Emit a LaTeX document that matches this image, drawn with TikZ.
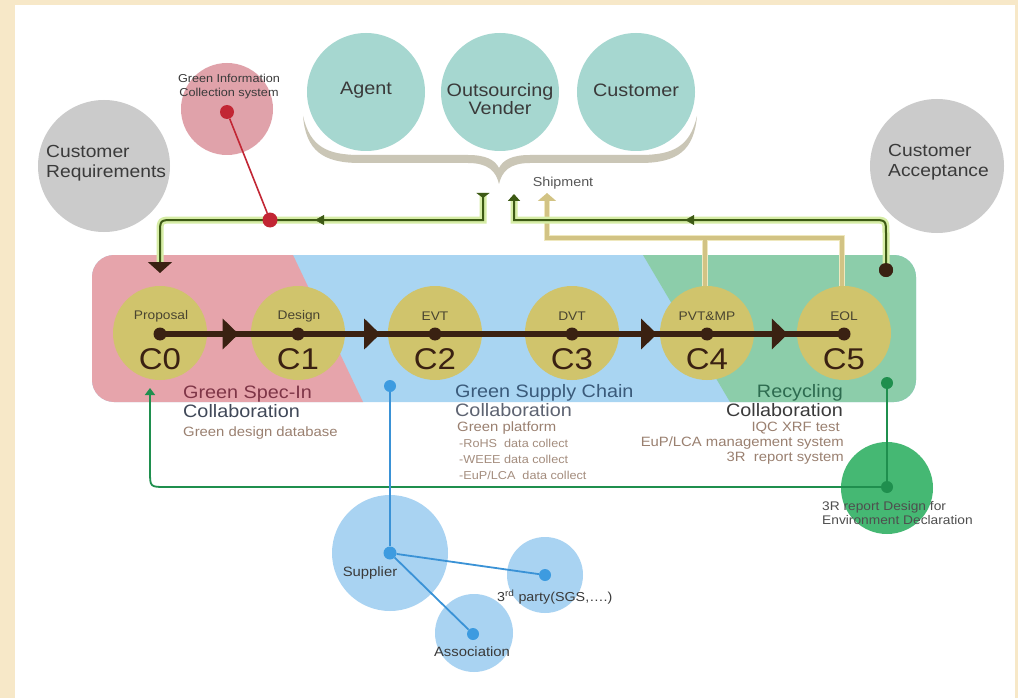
\documentclass[tikz,border=0pt]{standalone}
\usepackage{fontspec}
\setmainfont[FakeStretch=1.1]{Liberation Sans}
\usetikzlibrary{arrows.meta,decorations.markings}

\definecolor{bgbeige}{HTML}{F7E8C8}
\definecolor{bracegray}{HTML}{CAC6B6}
\definecolor{tealfill}{HTML}{A6D7D0}
\definecolor{grayfill}{HTML}{CBCBCB}
\definecolor{pinkfill}{HTML}{E0A2AA}
\definecolor{reddot}{HTML}{C22634}
\definecolor{bandpink}{HTML}{E6A4AB}
\definecolor{bandblue}{HTML}{A9D5F2}
\definecolor{bandgreen}{HTML}{8CCDAA}
\definecolor{olive}{HTML}{D0C46C}
\definecolor{brownline}{HTML}{3A2112}
\definecolor{dkgreen}{HTML}{3D5A14}
\definecolor{glowgreen}{HTML}{D6EDA6}
\definecolor{khakiline}{HTML}{D2C384}
\definecolor{khakiglow}{HTML}{EFE8BE}
\definecolor{envgreen}{HTML}{1F8F4E}
\definecolor{envfill}{HTML}{45B873}
\definecolor{bluefill}{HTML}{A9D3F2}
\definecolor{blueline}{HTML}{3A92D6}
\definecolor{bluedot}{HTML}{3D9BE0}
\definecolor{textgray}{HTML}{3A3A3A}
\definecolor{labelolive}{HTML}{4A4530}
\definecolor{maroon}{HTML}{7E3547}
\definecolor{slate}{HTML}{404858}
\definecolor{steel}{HTML}{3A5A7A}
\definecolor{tan}{HTML}{9A8070}
\definecolor{forest}{HTML}{2D6B4F}

\newcommand{\fsz}[2]{\fontsize{#1}{#2}\selectfont}

\begin{document}
\begin{tikzpicture}[x=1pt,y=-1pt,
  bubble/.style={circle, inner sep=0pt, minimum size=#1},
  dotnode/.style={circle, inner sep=0pt, minimum size=#1},
  txt/.style={inner sep=0pt, text=textgray},
  mainline/.style={draw=brownline, line width=6pt},
  bigtip/.style={postaction={decorate}, decoration={markings,
      mark=at position #1 with {\arrow[brownline]{Triangle[length=16pt,width=30pt]}}}},
  smalltip/.style={postaction={decorate}, decoration={markings,
      mark=at position #1 with {\arrow[dkgreen]{Triangle[length=9pt,width=10pt]}}}},
  glow/.style={draw=glowgreen, line width=7pt},
  ship/.style={draw=dkgreen, line width=2pt},
  khglow/.style={draw=khakiglow, line width=6.5pt},
  kh/.style={draw=khakiline, line width=3.5pt},
  envline/.style={draw=envgreen, line width=1.8pt},
  bluelink/.style={draw=blueline, line width=1.8pt}
]
\useasboundingbox (0,0) rectangle (1018,698);
\fill[bgbeige] (0,0) rectangle (1018,698);
\fill[white] (15,5) rectangle (1015,698);

% brace gathering the three partners
\fill[bracegray] (303,116) .. controls (306,150) and (322,163) .. (360,163) -- (468,163)
  .. controls (488,163) and (496,171) .. (499,184)
  .. controls (502,171) and (510,163) .. (530,163) -- (640,163)
  .. controls (678,163) and (694,150) .. (697,116)
  .. controls (690,146) and (674,155) .. (640,155) -- (530,155)
  .. controls (512,155) and (503,160) .. (499,168)
  .. controls (495,160) and (486,155) .. (468,155) -- (360,155)
  .. controls (326,155) and (310,146) .. (303,116) -- cycle;

% partners
\node[bubble=118pt, fill=tealfill] (agent) at (366,92) {};
\node[bubble=118pt, fill=tealfill] (vendor) at (500,92) {};
\node[bubble=118pt, fill=tealfill] (customer) at (636,92) {};
\node[txt, font=\fsz{18}{20}] (agenttxt) at (366,90) {Agent};
\node[txt, align=center, font=\fsz{18}{18}] (vendortxt) at (500,99) {Outsourcing\\Vender};
\node[txt, font=\fsz{18}{20}] (customertxt) at (636,90) {Customer};
\node[txt, text=textgray!85, font=\fsz{13}{15}] (ship) at (563,183) {Shipment};

% customer circles
\node[bubble=132pt, fill=grayfill] (custreq) at (104,166) {};
\node[txt, anchor=west, align=left, font=\fsz{17.5}{20}] (custreqtxt) at (46,163) {Customer\\Requirements};
\node[bubble=134pt, fill=grayfill] (custacc) at (937,166) {};
\node[txt, anchor=west, align=left, font=\fsz{17.5}{20}] (custacctxt) at (888,162) {Customer\\Acceptance};

% green information collection system
\node[bubble=92pt, fill=pinkfill] (gic) at (227,109) {};
\node[txt, align=center, font=\fsz{11.5}{14}] (gictxt) at (229,87) {Green Information\\Collection system};

% life-cycle band
\begin{scope}
  \path[clip, rounded corners=22pt] (92,255) rectangle (916,402);
  \fill[bandblue] (80,245) rectangle (930,410);
  \fill[bandpink] (80,245) -- (293,245) -- (293,255) -- (363,402) -- (363,410) -- (80,410) -- cycle;
  \fill[bandgreen] (643,255) -- (930,255) -- (930,410) -- (730,410) -- (730,402) -- cycle;
\end{scope}

% feedback coordinates
\coordinate (a0) at (483,193);
\coordinate (a1) at (483,220);
\coordinate (a2) at (160,220);
\coordinate (a3) at (160,273);
\coordinate (a3g) at (160,262);
\coordinate (b1) at (886,220);
\coordinate (b2) at (514,220);
\coordinate (b3) at (514,194);
\coordinate (k0) at (842,292);
\coordinate (k1) at (842,238);
\coordinate (k2) at (547,238);
\coordinate (k3) at (547,193);
\coordinate (k4) at (705,292);
\coordinate (k5) at (705,238);

% khaki shipment feed from C4 and C5
\draw[khglow] (k0) -- (k1) -- (k2) -- ([yshift=-6pt]k3);
\draw[khglow] (k4) -- (k5);
\draw[kh, -{Triangle[length=8pt,width=18pt]}] (k0) -- (k1) -- (k2) -- (k3);
\draw[kh] (k4) -- (k5);

% stage circles
\foreach \n/\x in {0/160,1/298,2/435,3/572,4/707,5/844}{
  \node[bubble=94pt, fill=olive] (c\n) at (\x,333) {};
}
\node[txt, text=labelolive, font=\fsz{12.5}{14}] (l0) at (161,316) {Proposal};
\node[txt, text=labelolive, font=\fsz{12.5}{14}] (l1) at (299,316) {Design};
\node[txt, text=labelolive, font=\fsz{12.5}{14}] (l2) at (435,316) {EVT};
\node[txt, text=labelolive, font=\fsz{12.5}{14}] (l3) at (572,316) {DVT};
\node[txt, text=labelolive, font=\fsz{12.5}{14}] (l4) at (707,316) {PVT\&MP};
\node[txt, text=labelolive, font=\fsz{12.5}{14}] (l5) at (844,316) {EOL};
\node[txt, text=brownline, font=\fsz{30}{32}] (n0) at (160,359) {C0};
\node[txt, text=brownline, font=\fsz{30}{32}] (n1) at (298,359) {C1};
\node[txt, text=brownline, font=\fsz{30}{32}] (n2) at (435,359) {C2};
\node[txt, text=brownline, font=\fsz{30}{32}] (n3) at (572,359) {C3};
\node[txt, text=brownline, font=\fsz{30}{32}] (n4) at (707,359) {C4};
\node[txt, text=brownline, font=\fsz{30}{32}] (n5) at (844,359) {C5};

% green feedback lines to and from shipment
\node[dotnode=14pt, fill=brownline] (tdot) at (886,270) {};
\draw[glow] (a0) -- (a1) -- ([xshift=14pt]a2) .. controls (a2) .. ([yshift=-14pt]a2) -- (a3g);
\draw[glow] (tdot.center) -- ([yshift=-14pt]b1) .. controls (b1) .. ([xshift=-14pt]b1) -- (b2) -- ([yshift=-5pt]b3);
\draw[ship, {Triangle[reversed,length=5pt,width=13pt]}-{Triangle[length=11pt,width=24pt,color=brownline]}]
  (a0) -- (a1) -- ([xshift=14pt]a2) .. controls (a2) .. ([yshift=-14pt]a2) -- (a3);
\draw[ship, -{Triangle[length=7pt,width=12pt]}]
  (tdot.center) -- ([yshift=-14pt]b1) .. controls (b1) .. ([xshift=-14pt]b1) -- (b2) -- (b3);
\path[smalltip=0.52] (a1) -- (a2);
\path[smalltip=0.54] (b1) -- (b2);
\node[dotnode=14pt, fill=brownline] (tdot2) at (886,270) {};

% red link from the information system
\node[dotnode=14pt, fill=reddot] (gicdot) at (227,112) {};
\node[dotnode=15pt, fill=reddot] (junc) at (270,220) {};
\draw[draw=reddot, line width=1.6pt] (gicdot) -- (junc);

% main stage line
\foreach \n/\x in {0/160,1/298,2/435,3/572,4/707,5/844}{
  \node[dotnode=13pt, fill=brownline] (d\n) at (\x,334) {};
}
\draw[mainline, bigtip=0.57] (d0.center) -- (d1.center);
\draw[mainline, bigtip=0.60] (d1.center) -- (d2.center);
\draw[mainline] (d2.center) -- (d3.center);
\draw[mainline, bigtip=0.63] (d3.center) -- (d4.center);
\draw[mainline, bigtip=0.59] (d4.center) -- (d5.center);

% collaboration captions
\node[txt, anchor=west, text=maroon, font=\fsz{18}{20}] (gs1) at (183,394) {Green Spec-In};
\node[txt, anchor=west, text=slate, font=\fsz{18}{20}] (gs2) at (183,411) {Collaboration};
\node[txt, anchor=west, text=tan, font=\fsz{13.5}{15}] (gs3) at (183,433) {Green design database};

\node[txt, anchor=west, text=steel, font=\fsz{18}{20}] (sc1) at (455,393) {Green Supply Chain};
\node[txt, anchor=west, text=slate!85, font=\fsz{18}{20}] (sc2) at (455,410) {Collaboration};
\node[txt, anchor=west, text=tan, font=\fsz{13.5}{15}] (sc3) at (457,428) {Green platform};
\node[txt, anchor=west, text=tan!90, font=\fsz{11.5}{13}] (sc4) at (459,443) {-RoHS\ \ data collect};
\node[txt, anchor=west, text=tan!90, font=\fsz{11.5}{13}] (sc5) at (459,459) {-WEEE data collect};
\node[txt, anchor=west, text=tan!90, font=\fsz{11.5}{13}] (sc6) at (459,475) {-EuP/LCA\ \ data collect};

\node[txt, anchor=east, text=forest, font=\fsz{18}{20}] (rc1) at (843,393) {Recycling};
\node[txt, anchor=east, text=textgray, font=\fsz{18}{20}] (rc2) at (843,410) {Collaboration};
\node[txt, anchor=east, text=tan, font=\fsz{13.5}{15}] (rc3) at (840,428) {IQC XRF test};
\node[txt, anchor=east, text=tan, font=\fsz{13.5}{15}] (rc4) at (844,443) {EuP/LCA management system};
\node[txt, anchor=east, text=tan, font=\fsz{13.5}{15}] (rc5) at (844,458) {3R\ \ report system};

% environment declaration loop back to C0
\node[bubble=92pt, fill=envfill] (env) at (887,488) {};
\node[dotnode=12pt, fill=envgreen] (edot1) at (887,383) {};
\node[dotnode=12pt, fill=envgreen] (edot2) at (887,487) {};
\coordinate (e1) at (150,487);
\coordinate (e2) at (150,388);
\draw[envline] (edot1.center) -- (edot2.center);
\draw[envline, -{Triangle[length=7pt,width=10pt]}]
  (edot2.center) -- ([xshift=16pt]e1) .. controls (e1) .. ([yshift=16pt]e1) -- (e2);
\node[txt, anchor=west, align=left, text=textgray!90, font=\fsz{12.5}{14}] (envtxt) at (822,513)
  {3R report Design for\\Environment Declaration};

% supply partners
\node[bubble=116pt, fill=bluefill] (supplier) at (390,553) {};
\node[bubble=76pt, fill=bluefill] (third) at (545,575) {};
\node[bubble=78pt, fill=bluefill] (assoc) at (474,633) {};
\node[dotnode=12pt, fill=bluedot] (bdot) at (390,386) {};
\node[dotnode=13pt, fill=bluedot] (sdot) at (390,553) {};
\node[dotnode=12pt, fill=bluedot] (tpdot) at (545,575) {};
\node[dotnode=12pt, fill=bluedot] (adot) at (473,634) {};
\draw[bluelink] (bdot) -- (sdot);
\draw[bluelink] (sdot) -- (tpdot);
\draw[bluelink] (sdot) -- (adot);
\node[txt, font=\fsz{13.5}{15}] (suptxt) at (370,573) {Supplier};
\node[txt, font=\fsz{13.5}{15}] (assoctxt) at (472,652) {Association};
\node[txt, anchor=west, font=\fsz{13}{15}] (thirdtxt) at (497,597) {3\textsuperscript{rd} party(SGS,….)};
\end{tikzpicture}
\end{document}
